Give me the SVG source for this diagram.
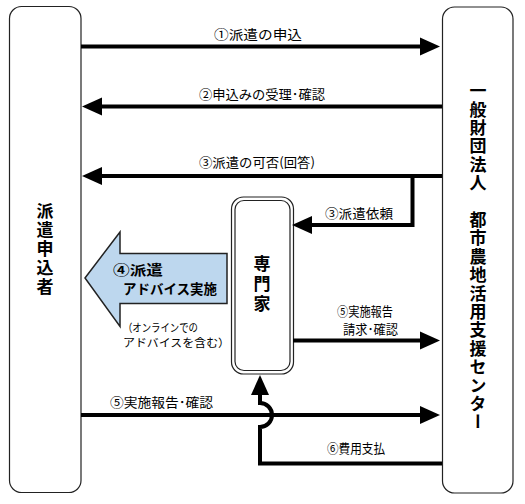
<svg xmlns="http://www.w3.org/2000/svg" width="525" height="504" viewBox="0 0 525 504">
<style>
.box{fill:#fff;stroke:#222;stroke-width:1.2}
.ln{fill:none;stroke:#000;stroke-width:4}
.lbl{font-family:"Noto Sans CJK JP","Noto Sans CJK SC",sans-serif;font-size:13px;fill:#000;dominant-baseline:central}
.sm{font-family:"Noto Sans CJK JP","Noto Sans CJK SC",sans-serif;font-size:11px;fill:#000;dominant-baseline:central}
.vt{font-family:"Noto Sans CJK JP","Noto Sans CJK SC",sans-serif;font-weight:bold;font-size:17px;fill:#000;writing-mode:vertical-rl;text-anchor:middle}
.big{font-family:"Noto Sans CJK JP","Noto Sans CJK SC",sans-serif;font-weight:bold;font-size:13.5px;fill:#000;dominant-baseline:central}
</style>
<defs>
<marker id="ah" viewBox="0 -10 21 20" refX="10" refY="0" markerWidth="21" markerHeight="20" markerUnits="userSpaceOnUse" orient="auto">
<path d="M0,-9 L20,0 L0,9 z" fill="#000"/>
</marker>
</defs>
<rect width="525" height="504" fill="#fff"/>
<g id="applicant">
<rect class="box" x="9.5" y="6.5" width="71.5" height="486" rx="12"/>
<text class="vt" x="45" y="250" style="letter-spacing:2px">派遣申込者</text>
</g>
<g id="center">
<rect class="box" x="442.5" y="7" width="70.5" height="486" rx="12"/>
<text class="vt" x="478" y="257" style="letter-spacing:1.4px">一般財団法人　都市農地活用支援センター</text>
</g>
<g id="expert">
<rect class="box" x="231.5" y="197" width="62" height="177" rx="12"/>
<rect class="box" x="235" y="200.5" width="55" height="170" rx="9"/>
<text class="vt" x="262" y="285" style="letter-spacing:3px">専門家</text>
</g>
<g id="advice">
<polygon points="85,278 120,232 120,253.5 227,253.5 227,303.5 120,303.5 120,326.5" fill="#BDD7EE" stroke="#222" stroke-width="1.5" stroke-linejoin="miter"/>
<text class="big" x="113" y="269" textLength="50" lengthAdjust="spacingAndGlyphs">④派遣</text>
<text class="big" x="123" y="288" textLength="94" lengthAdjust="spacingAndGlyphs">アドバイス実施</text>
<text class="sm" x="123" y="326.5" textLength="75" lengthAdjust="spacingAndGlyphs">（オンラインでの</text>
<text class="sm" x="123" y="341.5" textLength="107" lengthAdjust="spacingAndGlyphs">アドバイスを含む）</text>
</g>
<g id="connectors">
<path class="ln" d="M81,46.5 H430" marker-end="url(#ah)"/>
<path class="ln" d="M442,106.5 H92" marker-end="url(#ah)"/>
<path class="ln" d="M442,176 H92" marker-end="url(#ah)"/>
<path class="ln" d="M412.5,174 V225 H302" marker-end="url(#ah)"/>
<path class="ln" d="M293,340.5 H430" marker-end="url(#ah)"/>
<path class="ln" d="M81,415 H430" marker-end="url(#ah)"/>
<path class="ln" d="M442,463.5 H260 V427 A12,12 0 0 0 260,403 V385" marker-end="url(#ah)"/>
<text class="lbl" x="258" y="33" text-anchor="middle" textLength="88" lengthAdjust="spacingAndGlyphs">①派遣の申込</text>
<text class="lbl" x="262" y="93" text-anchor="middle" textLength="126" lengthAdjust="spacingAndGlyphs">②申込みの受理･確認</text>
<text class="lbl" x="257" y="161" text-anchor="middle" textLength="116" lengthAdjust="spacingAndGlyphs">③派遣の可否(回答)</text>
<text class="lbl" x="359" y="212" text-anchor="middle" textLength="68" lengthAdjust="spacingAndGlyphs">③派遣依頼</text>
<text class="lbl" x="337" y="310" textLength="56" lengthAdjust="spacingAndGlyphs">⑤実施報告</text>
<text class="lbl" x="343" y="328" textLength="55" lengthAdjust="spacingAndGlyphs">請求･確認</text>
<text class="lbl" x="110" y="401" textLength="103" lengthAdjust="spacingAndGlyphs">⑤実施報告･確認</text>
<text class="lbl" x="356" y="447" text-anchor="middle" textLength="58" lengthAdjust="spacingAndGlyphs">⑥費用支払</text>
</g>
</svg>
